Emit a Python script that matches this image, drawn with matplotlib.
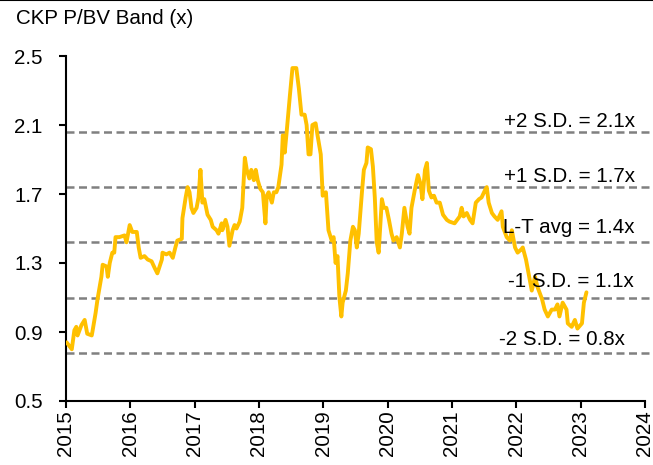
import matplotlib
matplotlib.use("Agg")
import matplotlib.pyplot as plt
from matplotlib.lines import Line2D

plt.rcParams['font.family'] = ['Liberation Sans', 'DejaVu Sans']

title = "CKP P/BV Band (x)"

years = [
    2015.01, 2015.09, 2015.13, 2015.16, 2015.18, 2015.24, 2015.29, 2015.33, 2015.40, 2015.41,
    2015.46, 2015.49, 2015.55, 2015.57, 2015.63, 2015.65, 2015.68, 2015.72, 2015.75, 2015.77,
    2015.83, 2015.91, 2015.94, 2015.99, 2016.03, 2016.10, 2016.13, 2016.16, 2016.22, 2016.27,
    2016.33, 2016.38, 2016.42, 2016.49, 2016.50, 2016.56, 2016.61, 2016.66, 2016.70, 2016.73,
    2016.80, 2016.81, 2016.86, 2016.89, 2016.92, 2016.95, 2016.98, 2017.03, 2017.06, 2017.09,
    2017.12, 2017.15, 2017.20, 2017.25, 2017.28, 2017.34, 2017.37, 2017.42, 2017.43, 2017.48,
    2017.51, 2017.54, 2017.59, 2017.62, 2017.65, 2017.70, 2017.74, 2017.78, 2017.81, 2017.85,
    2017.88, 2017.92, 2017.95, 2017.98, 2018.02, 2018.06, 2018.10, 2018.12, 2018.15, 2018.20,
    2018.23, 2018.27, 2018.30, 2018.35, 2018.37, 2018.40, 2018.43, 2018.48, 2018.52, 2018.58,
    2018.62, 2018.66, 2018.71, 2018.74, 2018.77, 2018.80, 2018.83, 2018.88, 2018.91, 2018.96,
    2018.99, 2019.04, 2019.07, 2019.08, 2019.13, 2019.16, 2019.19, 2019.22, 2019.25, 2019.28,
    2019.30, 2019.35, 2019.38, 2019.42, 2019.46, 2019.49, 2019.52, 2019.55, 2019.60, 2019.63,
    2019.67, 2019.69, 2019.74, 2019.77, 2019.80, 2019.83, 2019.86, 2019.91, 2019.94, 2019.98,
    2020.02, 2020.06, 2020.09, 2020.14, 2020.19, 2020.22, 2020.26, 2020.31, 2020.34, 2020.37,
    2020.42, 2020.47, 2020.51, 2020.54, 2020.58, 2020.61, 2020.64, 2020.68, 2020.72, 2020.76,
    2020.81, 2020.86, 2020.92, 2020.96, 2021.04, 2021.12, 2021.15, 2021.18, 2021.23, 2021.28,
    2021.32, 2021.37, 2021.42, 2021.46, 2021.51, 2021.54, 2021.57, 2021.62, 2021.66, 2021.71,
    2021.77, 2021.79, 2021.85, 2021.90, 2021.93, 2021.98, 2022.02, 2022.08, 2022.10, 2022.15,
    2022.18, 2022.24, 2022.29, 2022.33, 2022.40, 2022.44, 2022.49, 2022.55, 2022.60, 2022.64,
    2022.67, 2022.72, 2022.78, 2022.80, 2022.86, 2022.91, 2022.95, 2023.02, 2023.05, 2023.09,
]

pbv = [
    0.84, 0.80, 0.91, 0.93, 0.88, 0.94, 0.97, 0.89, 0.88, 0.90,
    1.01, 1.09, 1.22, 1.29, 1.28, 1.22, 1.30, 1.36, 1.36, 1.45,
    1.45, 1.46, 1.42, 1.52, 1.48, 1.48, 1.39, 1.33, 1.34, 1.32,
    1.31, 1.27, 1.24, 1.32, 1.36, 1.35, 1.36, 1.33, 1.39, 1.43,
    1.44, 1.56, 1.68, 1.74, 1.71, 1.62, 1.59, 1.62, 1.68, 1.84,
    1.65, 1.67, 1.58, 1.55, 1.51, 1.49, 1.47, 1.53, 1.49, 1.55,
    1.51, 1.40, 1.49, 1.52, 1.50, 1.54, 1.62, 1.91, 1.84, 1.79,
    1.84, 1.78, 1.84, 1.78, 1.73, 1.71, 1.53, 1.69, 1.71, 1.65,
    1.71, 1.71, 1.74, 1.87, 2.04, 1.94, 2.06, 2.27, 2.43, 2.43,
    2.31, 2.16, 2.16, 2.10, 1.93, 1.93, 2.10, 2.11, 2.04, 1.93,
    1.69, 1.71, 1.55, 1.49, 1.43, 1.45, 1.30, 1.34, 1.10, 0.99,
    1.07, 1.14, 1.24, 1.43, 1.51, 1.49, 1.39, 1.47, 1.71, 1.84,
    1.88, 1.97, 1.96, 1.86, 1.68, 1.42, 1.36, 1.67, 1.62, 1.62,
    1.55, 1.47, 1.43, 1.45, 1.39, 1.47, 1.62, 1.51, 1.47, 1.62,
    1.72, 1.81, 1.76, 1.67, 1.84, 1.88, 1.72, 1.68, 1.69, 1.65,
    1.65, 1.58, 1.55, 1.54, 1.53, 1.57, 1.62, 1.57, 1.59, 1.55,
    1.53, 1.65, 1.67, 1.68, 1.72, 1.74, 1.65, 1.59, 1.57, 1.55,
    1.60, 1.51, 1.45, 1.43, 1.49, 1.39, 1.36, 1.38, 1.39, 1.32,
    1.26, 1.14, 1.22, 1.16, 1.09, 1.03, 0.99, 1.03, 1.03, 1.06,
    0.99, 1.07, 1.03, 0.95, 0.93, 0.97, 0.92, 0.95, 1.07, 1.13,
]

band_levels = [2.06, 1.74, 1.42, 1.10, 0.78]
band_labels = ["+2 S.D. = 2.1x", "+1 S.D. = 1.7x", "L-T avg = 1.4x",
               "-1 S.D. = 1.1x", "-2 S.D. = 0.8x"]
label_y = [2.088, 1.770, 1.474, 1.161, 0.825]
label_x = [2023.84, 2023.84, 2023.84, 2023.83, 2023.68]

y_ticks = [0.5, 0.9, 1.3, 1.7, 2.1, 2.5]
y_tick_labels = ["0.5", "0.9", "1.3", "1.7", "2.1", "2.5"]
x_ticks = list(range(2015, 2025))
x_tick_labels = [str(y) for y in x_ticks]

FS = 14.8
fig = plt.figure(figsize=(6.53, 4.65), dpi=100)
ax = fig.add_axes([66 / 653, 1 - 401 / 465, (645 - 66) / 653, (401 - 56) / 465])

for lvl in band_levels:
    ax.plot([2015, 2024.11], [lvl, lvl], color="#808080", lw=1.8,
            linestyle=(0, (3.2, 1.8)), clip_on=False, zorder=2)

ax.plot(years, pbv, color="#FFC000", lw=2.8, zorder=3,
        solid_joinstyle="round", solid_capstyle="round")

for lx, ly, lab in zip(label_x, label_y, band_labels):
    ax.text(lx, ly, lab, ha="right", va="baseline", fontsize=FS, color="black", zorder=5)

ax.set_xlim(2015, 2024)
ax.set_ylim(0.5, 2.5)
ax.set_yticks(y_ticks)
ax.set_yticklabels(y_tick_labels, fontsize=FS)
ax.set_xticks(x_ticks)
ax.set_xticklabels(x_tick_labels, fontsize=FS, rotation=90)

ax.spines["top"].set_visible(False)
ax.spines["right"].set_visible(False)
for s in ["left", "bottom"]:
    ax.spines[s].set_linewidth(1.5)
    ax.spines[s].set_color("black")
ax.tick_params(axis="y", direction="out", length=5, width=1.5, pad=12)
ax.tick_params(axis="x", direction="out", length=5, width=1.5, pad=2)

fig.text(16 / 653, 1 - 18 / 465, title, ha="left", va="center", fontsize=FS)
fig.add_artist(Line2D([0, 1], [0.999, 0.999], transform=fig.transFigure,
                      color="black", lw=1.5))

fig.savefig("out.png", dpi=100)
